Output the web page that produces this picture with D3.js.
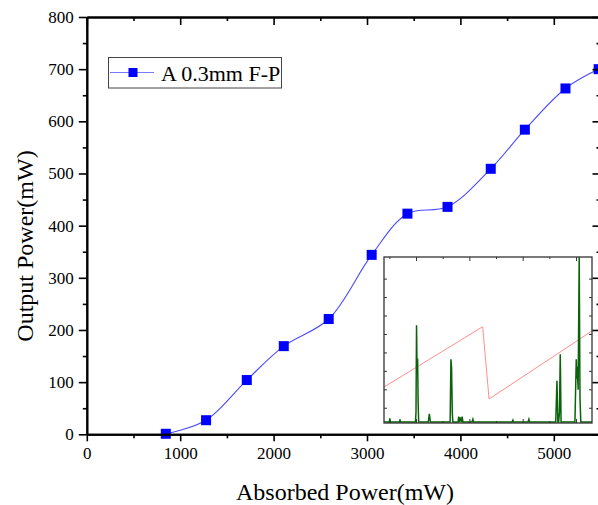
<!DOCTYPE html>
<html>
<head>
<meta charset="utf-8">
<script src="https://cdn.jsdelivr.net/npm/d3@7"></script>
<style>
  html, body { margin: 0; padding: 0; background: #fff; }
  svg { display: block; }
  text { font-family: "Liberation Serif", "Times New Roman", serif; fill: #000; }
</style>
</head>
<body>
<div id="chart"></div>
<script>
// ---- main series ----
const absorbedPower = [846, 1277, 1713, 2109, 2590, 3050, 3433, 3862, 4325, 4690, 5125, 5480];
const outputPower   = [1, 27, 104, 169, 221, 344, 423, 436, 509, 584, 663, 700];
const seriesName = "A 0.3mm F-P";

// ---- axis ticks ----
const xMajorTicks = [0, 1000, 2000, 3000, 4000, 5000];
const xMinorTicks = [500, 1500, 2500, 3500, 4500, 5500];
const yMajorTicks = [0, 100, 200, 300, 400, 500, 600, 700, 800];
const yMinorTicks = [50, 150, 250, 350, 450, 550, 650, 750];
const xTitle = "Absorbed Power(mW)";
const yTitle = "Output Power(mW)";

// ---- inset (oscilloscope trace) ----
const insetRampX = [0.39, 2.24, 2.36, 4.29];
const insetRampY = [1.15, 4.42, 0.50, 4.19];
const insetPulseX = [0.39, 0.49, 0.50, 0.51, 0.68, 0.69, 0.70, 0.98, 0.99, 1.00, 1.01, 1.02, 1.03, 1.04,
                     1.22, 1.24, 1.26, 1.63, 1.645, 1.657, 1.67, 1.68, 1.78, 1.79, 1.80, 1.82, 1.84, 1.855, 1.87,
                     2.04, 2.057, 2.07, 2.79, 2.807, 2.82, 3.09, 3.107, 3.12, 3.61, 3.633, 3.65, 3.665, 3.68, 3.695, 3.71,
                     3.97, 3.995, 4.005, 4.014, 4.03, 4.05, 4.065, 4.08, 4.29];
const insetPulseY = [-0.75, -0.75, -0.55, -0.75, -0.75, -0.6, -0.75, -0.75, -0.2, 4.5, 2.0, 2.7, 0.3, -0.75,
                     -0.75, -0.3, -0.75, -0.75, 2.65, 2.2, -0.2, -0.75, -0.75, -0.45, -0.75, -0.5, -0.75, -0.45, -0.75,
                     -0.75, -0.6, -0.75, -0.75, -0.65, -0.75, -0.75, -0.6, -0.75, -0.75, 1.49, -0.75, -0.75, -0.2, 2.93, -0.75,
                     -0.75, 2.65, 1.6, 2.25, 1.0, 8.2, 0.5, -0.75, -0.75];
const insetXMajor = [1, 2, 3, 4];
const insetXMinor = [0.5, 1.5, 2.5, 3.5];
const insetYTicks = [0, 1, 2, 3, 4, 5, 6, 7];

// ---- layout ----
const W = 598, H = 505;
const plot = { left: 86.8, right: 600.5, top: 17, bottom: 434.3 };
const inset = { left: 384, right: 592, top: 257, bottom: 423 };

const svg = d3.select("#chart").append("svg").attr("width", W).attr("height", H);

const x = d3.scaleLinear().domain([0, 5500]).range([plot.left, plot.right]);
const y = d3.scaleLinear().domain([0, 800]).range([plot.bottom, plot.top]);

// curve + markers
const line = d3.line().x(d => x(d[0])).y(d => y(d[1])).curve(d3.curveCatmullRom.alpha(0.5));
const pts = absorbedPower.map((v, i) => [v, outputPower[i]]);
svg.append("path").datum(pts).attr("d", line)
  .attr("fill", "none").attr("stroke", "#4a4aff").attr("stroke-width", 1.1);
svg.selectAll("rect.mk").data(pts).enter().append("rect").attr("class", "mk")
  .attr("x", d => x(d[0]) - 5).attr("y", d => y(d[1]) - 5)
  .attr("width", 10).attr("height", 10).attr("fill", "#0000ff");

// inset
const ix = d3.scaleLinear().domain([0.39, 4.29]).range([inset.left, inset.right]);
const iy = d3.scaleLinear().domain([-0.8, 8.2]).range([inset.bottom, inset.top]);
const ig = svg.append("g");
ig.append("rect").attr("x", inset.left).attr("y", inset.top)
  .attr("width", inset.right - inset.left).attr("height", inset.bottom - inset.top)
  .attr("fill", "#fff");
ig.append("clipPath").attr("id", "iclip").append("rect")
  .attr("x", inset.left).attr("y", inset.top)
  .attr("width", inset.right - inset.left).attr("height", inset.bottom - inset.top);
const iline = d3.line().x(d => ix(d[0])).y(d => iy(d[1]));
ig.append("path").datum(insetRampX.map((v, i) => [v, insetRampY[i]])).attr("d", iline)
  .attr("clip-path", "url(#iclip)")
  .attr("fill", "none").attr("stroke", "#ff8f8f").attr("stroke-width", 1);
ig.append("path").datum(insetPulseX.map((v, i) => [v, insetPulseY[i]])).attr("d", iline)
  .attr("clip-path", "url(#iclip)")
  .attr("fill", "none").attr("stroke", "#0a630a").attr("stroke-width", 1.5);
// inset ticks (inward on all sides)
const itick = ig.append("g").attr("stroke", "#333").attr("stroke-width", 1);
insetXMajor.forEach(v => {
  itick.append("line").attr("x1", ix(v)).attr("x2", ix(v)).attr("y1", inset.bottom).attr("y2", inset.bottom - 4);
  itick.append("line").attr("x1", ix(v)).attr("x2", ix(v)).attr("y1", inset.top).attr("y2", inset.top + 4);
});
insetXMinor.forEach(v => {
  itick.append("line").attr("x1", ix(v)).attr("x2", ix(v)).attr("y1", inset.bottom).attr("y2", inset.bottom - 2);
  itick.append("line").attr("x1", ix(v)).attr("x2", ix(v)).attr("y1", inset.top).attr("y2", inset.top + 2);
});
insetYTicks.forEach(v => {
  itick.append("line").attr("x1", inset.left).attr("x2", inset.left + 3).attr("y1", iy(v)).attr("y2", iy(v));
  itick.append("line").attr("x1", inset.right).attr("x2", inset.right - 3).attr("y1", iy(v)).attr("y2", iy(v));
});
ig.append("rect").attr("x", inset.left).attr("y", inset.top)
  .attr("width", inset.right - inset.left).attr("height", inset.bottom - inset.top)
  .attr("fill", "none").attr("stroke", "#333").attr("stroke-width", 1.3);

// axes
const axW = 2;
const bottomMajor = d3.axisBottom(x).tickValues(xMajorTicks).tickSize(7).tickSizeOuter(0).tickPadding(6).tickFormat(d3.format("d"));
const gb = svg.append("g").attr("transform", `translate(0,${plot.bottom})`).call(bottomMajor);
const bottomMinor = d3.axisBottom(x).tickValues(xMinorTicks).tickSize(4).tickSizeOuter(0).tickFormat("");
const gbm = svg.append("g").attr("transform", `translate(0,${plot.bottom})`).call(bottomMinor);
const topMajor = d3.axisTop(x).tickValues(xMajorTicks).tickSize(-8).tickSizeOuter(0).tickFormat("");
const gt = svg.append("g").attr("transform", `translate(0,${plot.top})`).call(topMajor);
const topMinor = d3.axisTop(x).tickValues(xMinorTicks).tickSize(-4).tickSizeOuter(0).tickFormat("");
const gtm = svg.append("g").attr("transform", `translate(0,${plot.top})`).call(topMinor);
const leftMajor = d3.axisLeft(y).tickValues(yMajorTicks).tickSize(8).tickSizeOuter(0).tickPadding(5).tickFormat(d3.format("d"));
const gl = svg.append("g").attr("transform", `translate(${plot.left},0)`).call(leftMajor);
const leftMinor = d3.axisLeft(y).tickValues(yMinorTicks).tickSize(4).tickSizeOuter(0).tickFormat("");
const glm = svg.append("g").attr("transform", `translate(${plot.left},0)`).call(leftMinor);
const rightMajor = d3.axisRight(y).tickValues(yMajorTicks).tickSize(-8).tickSizeOuter(0).tickFormat("");
const gr = svg.append("g").attr("transform", `translate(${plot.right},0)`).call(rightMajor);
const rightMinor = d3.axisRight(y).tickValues(yMinorTicks).tickSize(-4).tickSizeOuter(0).tickFormat("");
const grm = svg.append("g").attr("transform", `translate(${plot.right},0)`).call(rightMinor);

[gb, gbm, gt, gtm, gl, glm, gr, grm].forEach(g => {
  g.selectAll("path.domain").attr("stroke", "#000").attr("stroke-width", axW);
  g.selectAll(".tick line").attr("stroke", "#000").attr("stroke-width", 1.6);
  g.selectAll(".tick text").style("font-family", '"Liberation Serif", serif').style("font-size", "17px").attr("fill", "#000");
});
gb.selectAll(".tick text").attr("dy", "0.71em");

// titles
svg.append("text").attr("x", 345).attr("y", 500).attr("text-anchor", "middle")
  .style("font-size", "24px").text(xTitle);
svg.append("text").attr("transform", "translate(33,246) rotate(-90)").attr("text-anchor", "middle")
  .style("font-size", "24px").text(yTitle);

// legend
const lg = svg.append("g");
lg.append("rect").attr("x", 108.5).attr("y", 57.5).attr("width", 173).attr("height", 30.5)
  .attr("fill", "#fff").attr("stroke", "#444").attr("stroke-width", 1);
lg.append("line").attr("x1", 110).attr("x2", 154).attr("y1", 72.5).attr("y2", 72.5)
  .attr("stroke", "#7a7aff").attr("stroke-width", 1.2);
lg.append("rect").attr("x", 128.5).attr("y", 68).attr("width", 9).attr("height", 9).attr("fill", "#0000ff");
lg.append("text").attr("x", 161).attr("y", 81).style("font-size", "22px").text(seriesName);
</script>
</body>
</html>
